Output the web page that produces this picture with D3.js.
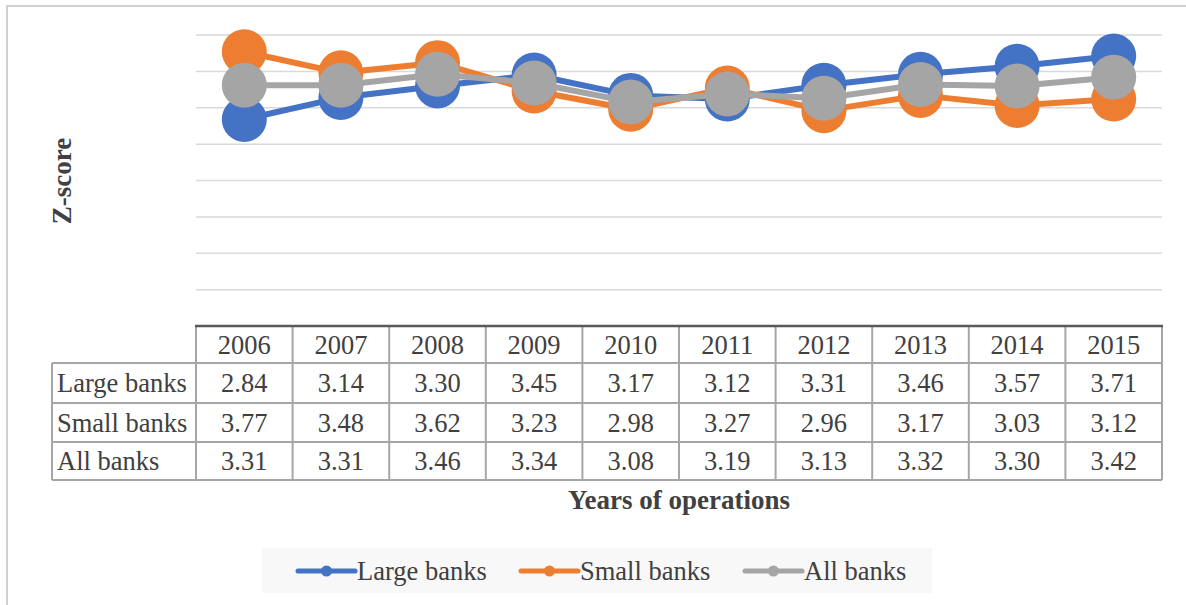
<!DOCTYPE html>
<html>
<head>
<meta charset="utf-8">
<script src="https://cdn.jsdelivr.net/npm/d3@7"></script>
<style>
  html, body { margin: 0; padding: 0; background: #fff; }
  svg { display: block; }
  text { font-family: "Liberation Serif", "Times New Roman", serif; fill: #404040; }
</style>
</head>
<body>
<div id="viz"></div>
<script>
const years = ['2006','2007','2008','2009','2010','2011','2012','2013','2014','2015'];
const largeBanks = [2.84, 3.14, 3.30, 3.45, 3.17, 3.12, 3.31, 3.46, 3.57, 3.71];
const smallBanks = [3.77, 3.48, 3.62, 3.23, 2.98, 3.27, 2.96, 3.17, 3.03, 3.12];
const allBanks   = [3.31, 3.31, 3.46, 3.34, 3.08, 3.19, 3.13, 3.32, 3.30, 3.42];
const seriesNames = ['Large banks', 'Small banks', 'All banks'];
const yTicks = [0, 0.5, 1, 1.5, 2, 2.5, 3, 3.5, 4];

const series = [
  { name: seriesNames[0], values: largeBanks, color: '#4472C4' },
  { name: seriesNames[1], values: smallBanks, color: '#ED7D31' },
  { name: seriesNames[2], values: allBanks,   color: '#A5A5A5' }
];

const W = 1186, H = 605;
const plot = { left: 196, right: 1162, top: 35, bottom: 326 };
const tableLeft = 52;
const rowY = [326, 363, 403, 442, 480];

const svg = d3.select('#viz').append('svg')
  .attr('width', W).attr('height', H);

// outer chart border
svg.append('rect')
  .attr('x', 7).attr('y', 6)
  .attr('width', W + 10).attr('height', H + 10)
  .attr('fill', '#fff').attr('stroke', '#d0d0d0').attr('stroke-width', 2);

const x = d3.scaleBand().domain(years).range([plot.left, plot.right]);
const y = d3.scaleLinear().domain([0, 4]).range([plot.bottom, plot.top]);
const cx = d => x(d) + x.bandwidth() / 2;

// gridlines
svg.append('g').selectAll('line').data(yTicks.filter(t => t > 0)).join('line')
  .attr('x1', plot.left).attr('x2', plot.right)
  .attr('y1', d => y(d)).attr('y2', d => y(d))
  .attr('stroke', '#d9d9d9').attr('stroke-width', 1.5);

// lines and markers
const lineGen = d3.line()
  .x((d, i) => cx(years[i]))
  .y(d => y(d));

series.forEach(s => {
  const g = svg.append('g');
  g.append('path')
    .datum(s.values)
    .attr('fill', 'none')
    .attr('stroke', s.color)
    .attr('stroke-width', 6)
    .attr('stroke-linejoin', 'round')
    .attr('d', lineGen);
  g.selectAll('circle').data(s.values).join('circle')
    .attr('cx', (d, i) => cx(years[i]))
    .attr('cy', d => y(d))
    .attr('r', 22.5)
    .attr('fill', s.color);
});

// data table
const tbl = svg.append('g');
const gridStroke = '#a6a6a6';
const cellFont = '26.5px';

// horizontal borders
rowY.slice(1).forEach(yy => {
  tbl.append('line')
    .attr('x1', tableLeft).attr('x2', plot.right)
    .attr('y1', yy).attr('y2', yy)
    .attr('stroke', gridStroke).attr('stroke-width', 2);
});
// vertical borders
const colEdges = years.map(d => x(d)).concat([plot.right]);
colEdges.forEach(xx => {
  tbl.append('line')
    .attr('x1', xx).attr('x2', xx)
    .attr('y1', rowY[0]).attr('y2', rowY[4])
    .attr('stroke', gridStroke).attr('stroke-width', 2);
});
tbl.append('line')
  .attr('x1', tableLeft).attr('x2', tableLeft)
  .attr('y1', rowY[1]).attr('y2', rowY[4])
  .attr('stroke', gridStroke).attr('stroke-width', 2);
// axis line on top of table
tbl.append('line')
  .attr('x1', plot.left - 1).attr('x2', plot.right + 1)
  .attr('y1', y(0)).attr('y2', y(0))
  .attr('stroke', '#595959').attr('stroke-width', 2.5);

// header years
tbl.selectAll('text.yr').data(years).join('text')
  .attr('class', 'yr')
  .attr('x', d => cx(d))
  .attr('y', (rowY[0] + rowY[1]) / 2 + 9)
  .attr('text-anchor', 'middle')
  .attr('font-size', cellFont)
  .text(d => d);

series.forEach((s, r) => {
  const mid = (rowY[r + 1] + rowY[r + 2]) / 2 + 9;
  tbl.append('text')
    .attr('x', tableLeft + 5).attr('y', mid)
    .attr('font-size', cellFont)
    .text(s.name);
  tbl.selectAll(`text.v${r}`).data(s.values).join('text')
    .attr('class', `v${r}`)
    .attr('x', (d, i) => cx(years[i]))
    .attr('y', mid)
    .attr('text-anchor', 'middle')
    .attr('font-size', cellFont)
    .text(d => d.toFixed(2));
});

// axis titles
svg.append('text')
  .attr('x', 679).attr('y', 509)
  .attr('text-anchor', 'middle')
  .attr('font-size', '27px').attr('font-weight', 'bold')
  .text('Years of operations');

svg.append('text')
  .attr('transform', 'translate(71,181) rotate(-90)')
  .attr('text-anchor', 'middle')
  .attr('font-size', '27px').attr('font-weight', 'bold')
  .text('Z-score');

// legend
const lg = svg.append('g');
lg.append('rect')
  .attr('x', 262).attr('y', 548).attr('width', 670).attr('height', 45)
  .attr('fill', '#f8f8f8');
const legendX = [298, 521, 745];
series.forEach((s, i) => {
  const item = lg.append('g').attr('transform', `translate(${legendX[i]},571)`);
  item.append('line')
    .attr('x1', 0).attr('x2', 57).attr('y1', 0).attr('y2', 0)
    .attr('stroke', s.color).attr('stroke-width', 5).attr('stroke-linecap', 'round');
  item.append('circle')
    .attr('cx', 28.5).attr('cy', 0).attr('r', 5.5)
    .attr('fill', s.color);
  item.append('text')
    .attr('x', 59).attr('y', 9)
    .attr('font-size', '26.5px')
    .text(s.name);
});
</script>
</body>
</html>
